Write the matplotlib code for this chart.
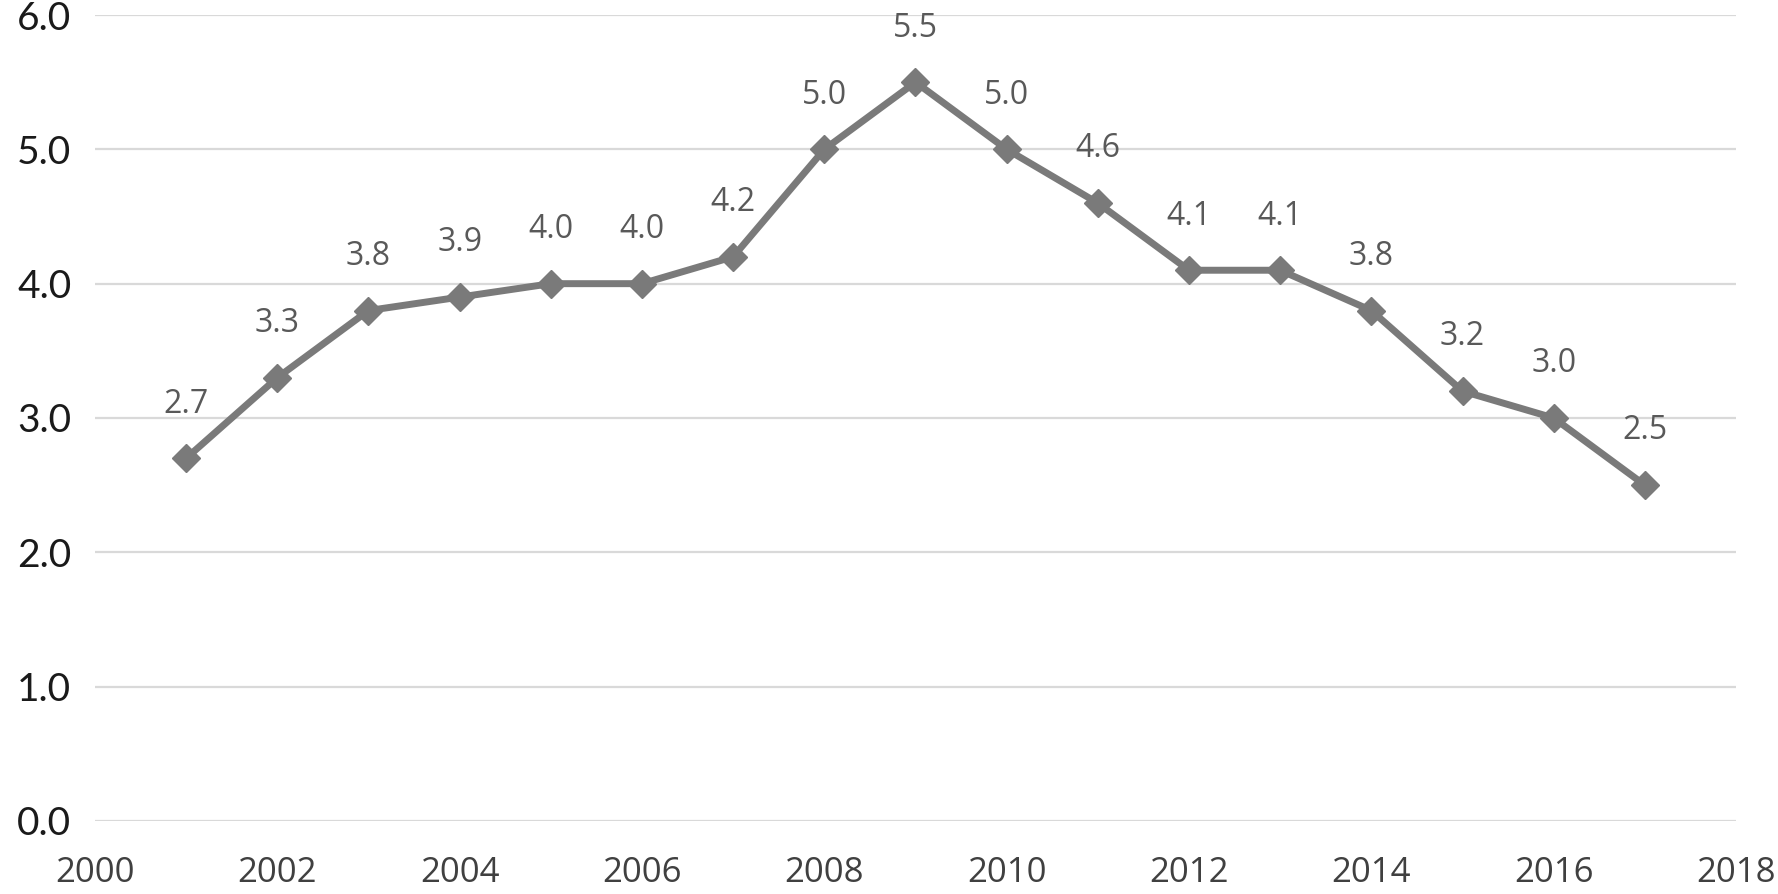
import matplotlib.pyplot as plt

years = [2001, 2002, 2003, 2004, 2005, 2006, 2007, 2008, 2009,
         2010, 2011, 2012, 2013, 2014, 2015, 2016, 2017]
values = [2.7, 3.3, 3.8, 3.9, 4.0, 4.0, 4.2, 5.0, 5.5,
          5.0, 4.6, 4.1, 4.1, 3.8, 3.2, 3.0, 2.5]
x_ticks = list(range(2000, 2019, 2))
y_ticks = [0.0, 1.0, 2.0, 3.0, 4.0, 5.0, 6.0]

LINE_COLOR = "#7a7a7a"

fig = plt.figure(figsize=(17.78, 8.94), dpi=100)
ax = fig.add_axes([0.0534, 0.0817, 0.923, 0.9015])

ax.set_xlim(2000, 2018)
ax.set_ylim(0, 6)

# gridlines only, no spines or tick marks
ax.set_yticks(y_ticks)
ax.set_xticks(x_ticks)
ax.grid(axis="y", color="#d9d9d9", linewidth=1.6)
ax.set_axisbelow(True)
for s in ax.spines.values():
    s.set_visible(False)
ax.tick_params(length=0)

ax.set_yticklabels([f"{v:.1f}" for v in y_ticks], fontsize=28,
                   fontfamily="Lato", color="#1a1a1a")
ax.set_xticklabels([str(v) for v in x_ticks], fontsize=25,
                   fontfamily="Open Sans", color="#404040")
ax.tick_params(axis="y", pad=17)
ax.tick_params(axis="x", pad=25)

ax.plot(years, values, color=LINE_COLOR, linewidth=5, marker="D",
        markersize=14, solid_joinstyle="round", zorder=3)

for x, y in zip(years, values):
    ax.annotate(f"{y:.1f}", (x, y), xytext=(0, 39), textcoords="offset points",
                ha="center", va="center", fontsize=23, fontfamily="Open Sans",
                color="#595959")

fig.savefig("out.png", dpi=100)
plt.close(fig)
